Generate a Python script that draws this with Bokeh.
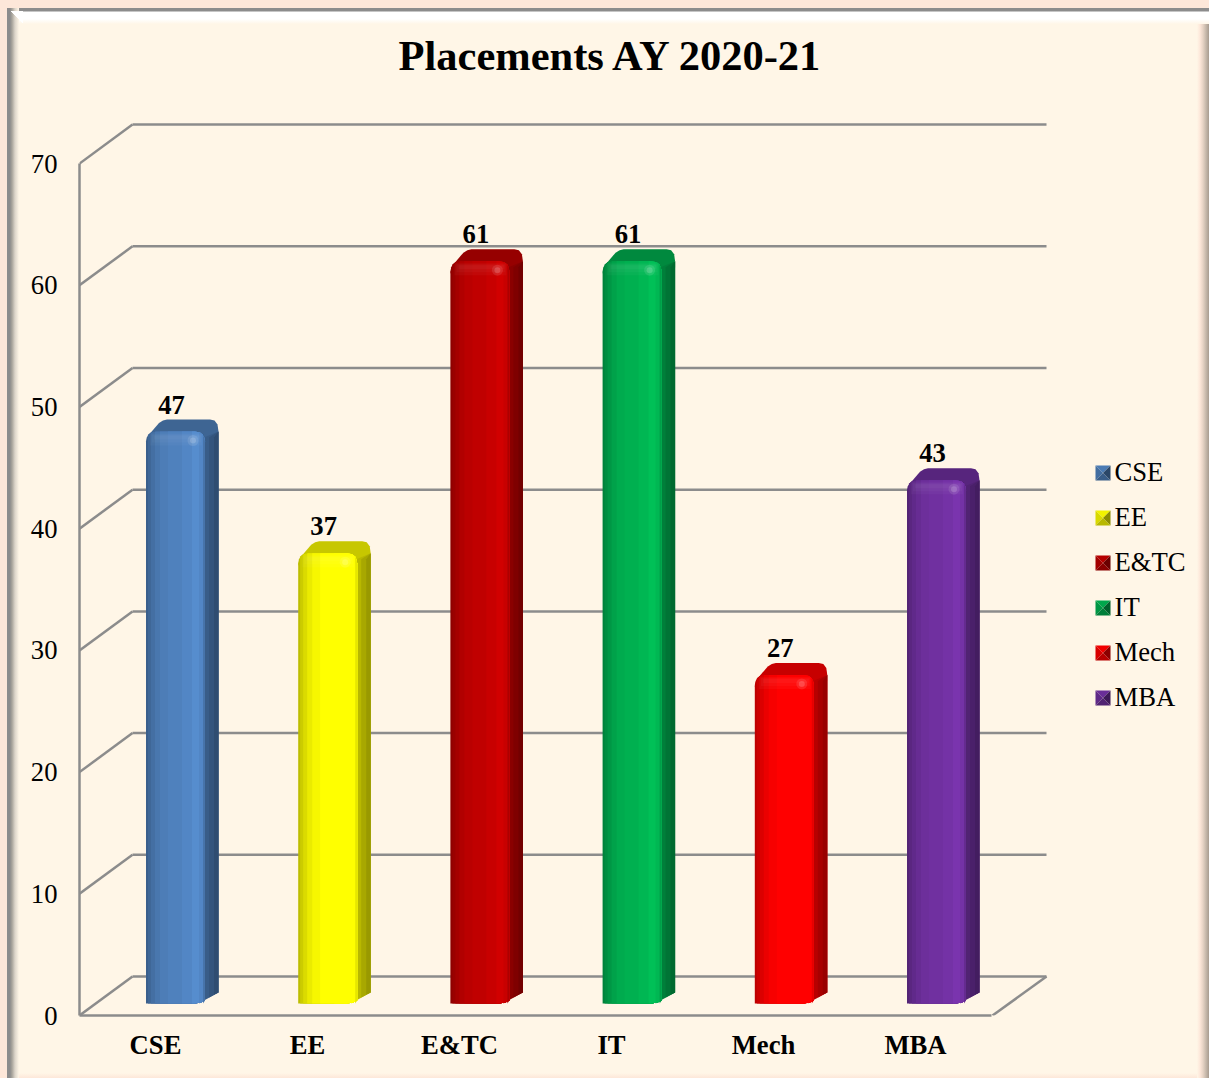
from bokeh.plotting import figure
from bokeh.models import Range1d, LinearAxis, FixedTicker, Legend, LegendItem, PolyAnnotation, Title
from bokeh.core.properties import field
from bokeh.embed import file_html
from bokeh.resources import INLINE

# ---- data
categories = ["CSE", "EE", "E&TC", "IT", "Mech", "MBA"]
placements = [47, 37, 61, 61, 27, 43]
base_colors = ["#4f81bd", "#ffff00", "#c00000", "#00b050", "#ff0000", "#7030a0"]
y_ticks = [0, 10, 20, 30, 40, 50, 60, 70]

# ---- layout (pixels)
W, H = 1209, 1078
FRAME_L, FRAME_T, FRAME_B = 79, 86, 1015
PX_PER_UNIT = 12.17
BAR_STEP = 152.2
BAR_W, BAR_DX, BAR_DY = 59, 13.5, 11
BAR0_CX = 175
BAR_BASE_PX = 1003
WALL_DX, WALL_DY = 53, 39
FONT = "Liberation Serif"
CREAM, PEACH, GRID = "#fff6e7", "#fde7d9", "#8c8c8c"


def shade(col, k):
    r, g, b = (int(col[i:i + 2], 16) for i in (1, 3, 5))
    return "#%02x%02x%02x" % tuple(max(0, min(255, round(c * k))) for c in (r, g, b))


frame_css = ", ".join([
    f"linear-gradient({PEACH},{PEACH}) 0 0 / 100% 8px no-repeat",
    f"linear-gradient({PEACH},{PEACH}) 0 0 / 7px 100% no-repeat",
    "linear-gradient(to top right,transparent 50%,#ffffff 50%) 10px 11px / 13px 13px no-repeat",
    f"linear-gradient(to right,{GRID} 0,{GRID} 3px,#a8a49c 5px,#dcd5ca 8px,{CREAM} 12px) 7px 8px / 12px 100% no-repeat",
    f"linear-gradient(to bottom,{GRID} 0,{GRID} 3px,#ffffff 4px,#ffffff 11px,{CREAM} 16px) 7px 8px / calc(100% - 7px) 16px no-repeat",
    f"linear-gradient(to right,{CREAM} 0,{PEACH} 3px,#e6d3c4 6px,#c6b8aa 9px,#a89c90 12px) 100% 0 / 12px 100% no-repeat",
    f"linear-gradient(to bottom,{CREAM} 0,{PEACH} 100%) 0 100% / 100% 5px no-repeat",
    f"linear-gradient({CREAM},{CREAM})",
])

# main ranges: bars; "axis": the front plane of the 3-D box
x_main = Range1d((FRAME_L - BAR0_CX) / BAR_STEP, (W - BAR0_CX) / BAR_STEP)
y_main = Range1d((BAR_BASE_PX - FRAME_B) / PX_PER_UNIT, (BAR_BASE_PX - FRAME_T) / PX_PER_UNIT)

p = figure(width=W, height=H, x_range=x_main, y_range=y_main, output_backend="svg",
           toolbar_location=None, x_axis_location=None, y_axis_location=None,
           min_border_left=FRAME_L, min_border_right=0, min_border_top=FRAME_T,
           min_border_bottom=H - FRAME_B, background_fill_color=None, border_fill_color=None,
           outline_line_color=None, styles={"background": frame_css})
p.grid.visible = False
p.extra_y_ranges = {"axis": Range1d(0, (FRAME_B - FRAME_T) / PX_PER_UNIT)}
p.extra_x_ranges = {"cat": Range1d((FRAME_L - 155) / 152.0, (W - 155) / 152.0)}

p.add_layout(Title(text="Placements AY 2020-21", text_font=FONT, text_font_size="42.5px",
                   text_font_style="bold", text_color="#000000", align="left", offset=319,
                   standoff=16), "above")

yax = LinearAxis(y_range_name="axis", ticker=FixedTicker(ticks=y_ticks), bounds=(0, 70),
                 axis_line_color=GRID, axis_line_width=2.5, major_tick_line_color=None,
                 minor_tick_line_color=None, major_label_standoff=16,
                 major_label_text_font=FONT, major_label_text_font_size="26.67px",
                 major_label_text_color="#000000")
p.add_layout(yax, "left")
xax = LinearAxis(x_range_name="cat", ticker=FixedTicker(ticks=list(range(len(categories)))),
                 bounds=(-0.5, 5.5), axis_line_color=GRID, axis_line_width=2.5,
                 major_tick_line_color=None, minor_tick_line_color=None, major_label_standoff=8,
                 major_label_overrides={i: c for i, c in enumerate(categories)},
                 major_label_text_font=FONT, major_label_text_font_size="26.67px",
                 major_label_text_font_style="bold", major_label_text_color="#000000")
p.add_layout(xax, "below")

# ---- walls and floor (in "axis" units on y, bar-step units on x)
ux = lambda px: (px - BAR0_CX) / BAR_STEP
wall_up = WALL_DY / PX_PER_UNIT
n_t = len(y_ticks)
p.segment(x0=[ux(FRAME_L + WALL_DX)] * n_t, x1=[ux(1046)] * n_t,
          y0=[t + wall_up for t in y_ticks], y1=[t + wall_up for t in y_ticks],
          y_range_name="axis", line_color=GRID, line_width=2.5)
p.segment(x0=[ux(FRAME_L)] * n_t, x1=[ux(FRAME_L + WALL_DX)] * n_t,
          y0=y_ticks, y1=[t + wall_up for t in y_ticks],
          y_range_name="axis", line_color=GRID, line_width=2.5)
p.segment(x0=[ux(992)], x1=[ux(1046)], y0=[0], y1=[wall_up],
          y_range_name="axis", line_color=GRID, line_width=2.5)

# ---- bars
idx = list(range(len(categories)))
front = p.vbar(x=idx, width=(BAR_W - 2) / BAR_STEP, bottom=3 / PX_PER_UNIT,
               top=[v - 14 / PX_PER_UNIT for v in placements], fill_color=base_colors,
               fill_alpha=0, line_color=None)
front.data_source.data["cat"] = categories


def bx(i, px):
    return i + (px - BAR_W / 2) / BAR_STEP


def by(v, px_down):
    return v - px_down / PX_PER_UNIT


ARC = [(0.0, 10.0), (0.8, 6.0), (2.5, 3.0), (5.0, 1.0), (10.0, 0.0)]


def front_top(x):
    """rounded shoulder of the front face, px below the value line"""
    d = min(x, BAR_W - x)
    for (a, ya), (b, yb) in zip(ARC, ARC[1:]):
        if d <= b:
            return ya + (yb - ya) * (d - a) / (b - a)
    return 0.0


hull_x, hull_y, hull_c = [], [], []
side_x, side_y, side_c = [], [], []
strip_x, strip_y, strip_c = [], [], []
glow_x, glow_y = [], []
STOPS = [(0, .74), (2, .80), (5, .86), (9, .92), (14, .97), (22, 1.0), (36, 1.04), (46, 1.09),
         (53, 1.04), (57, .90)]
SIDE_STOPS = [(0, .72), (5, .66), (10, .60)]
FOOT = [(BAR_W, 3), (BAR_W - 4, 1), (BAR_W - 10, 0)]
for i, (v, col) in enumerate(zip(placements, base_colors)):
    pts = [(0, 12), (1, 7), (4, 2), (13, -8.5), (17, -11), (21, -12), (BAR_W + 5, -12),
           (BAR_W + 9.5, -11), (BAR_W + 12.5, -7), (BAR_W + BAR_DX, 0)]
    hull_x.append([bx(i, a) for a, _ in pts] + [bx(i, BAR_W)])
    hull_y.append([by(v, b) for _, b in pts] + [by(v, 12)])
    hull_c.append(shade(col, .78))
    for s0, k in SIDE_STOPS:
        up = 3 + (BAR_DY - 3) * s0 / BAR_DX
        side_x.append([bx(i, BAR_W - 1 + s0), bx(i, BAR_W + BAR_DX), bx(i, BAR_W + BAR_DX),
                       bx(i, BAR_W - 1 + s0)])
        side_y.append([by(v, 6), by(v, 0), by(0, -BAR_DY), by(0, -up)])
        side_c.append(shade(col, k))
    for s0, k in STOPS:
        xs_px = [s0] + [x for x in (0.8, 2.5, 5, 10, BAR_W - 10, BAR_W - 5, BAR_W - 2.5,
                                    BAR_W - .8, BAR_W) if x > s0]
        foot = [(x, u) for x, u in FOOT if x > s0]
        strip_x.append([bx(i, x) for x in xs_px] + [bx(i, x) for x, _ in foot] + [bx(i, s0)])
        strip_y.append([by(v, front_top(x)) for x in xs_px] + [by(0, -u) for _, u in foot]
                       + [by(0, 0)])
        strip_c.append(shade(col, k))
    for a, b, c, d in ((4, BAR_W - 3, 2, 14), (6, BAR_W - 4, 3, 11), (8, BAR_W - 5, 4, 8)):
        glow_x.append([bx(i, a), bx(i, b), bx(i, b), bx(i, a)])
        glow_y.append([by(v, c), by(v, c), by(v, d), by(v, d)])

p.patches(hull_x, hull_y, fill_color=hull_c, line_color=None)
p.patches(side_x, side_y, fill_color=side_c, line_color=None)
p.patches(strip_x, strip_y, fill_color=strip_c, line_color=None)
p.patches(glow_x, glow_y, fill_color="#ffffff", fill_alpha=0.03, line_color=None)
glint_x = [bx(i, 47) for i in idx]
glint_y = [by(v, 9) for v in placements]
p.scatter(glint_x, glint_y, size=11, fill_color="#ffffff", fill_alpha=0.10, line_color=None)
p.scatter(glint_x, glint_y, size=6, fill_color="#ffffff", fill_alpha=0.16, line_color=None)

# value labels
p.text(x=idx, y=placements, text=[str(v) for v in placements], x_offset=-4, y_offset=-27,
       text_align="center", text_baseline="middle", text_font={"value": FONT},
       text_font_size={"value": "26.67px"}, text_font_style="bold", text_color="#000000")

# ---- legend
legend = Legend(items=[LegendItem(label=field("cat"), renderers=[front])],
                location=(1094.5 - FRAME_L, FRAME_B - 713), orientation="vertical",
                border_line_color=None, background_fill_color=None, padding=0, margin=0,
                glyph_width=15, glyph_height=15, label_standoff=5, spacing=14,
                label_text_font=FONT, label_text_font_size="26.67px", label_text_color="#000000")
p.add_layout(legend, "center")


def canvas_poly(xs, ys, color):
    p.add_layout(PolyAnnotation(xs=xs, ys=ys, xs_units="canvas", ys_units="canvas",
                                fill_color=color, fill_alpha=1, line_color=None, level="overlay"))


# bevel on the legend keys
for n, col in enumerate(base_colors):
    x0, y0 = 1095, 465 + 45 * n
    x1, y1 = x0 + 15, y0 + 15
    cx, cy = (x0 + x1) / 2, (y0 + y1) / 2
    canvas_poly([x0, x1, cx], [y0, y0, cy], shade(col, .95))
    canvas_poly([x0, cx, x0], [y0, cy, y1], shade(col, .85))
    canvas_poly([x1, x1, cx], [y0, y1, cy], shade(col, .55))
    canvas_poly([x0, x1, cx], [y1, y1, cy], shade(col, .72))

open("out.html", "w").write(file_html(p, INLINE))
